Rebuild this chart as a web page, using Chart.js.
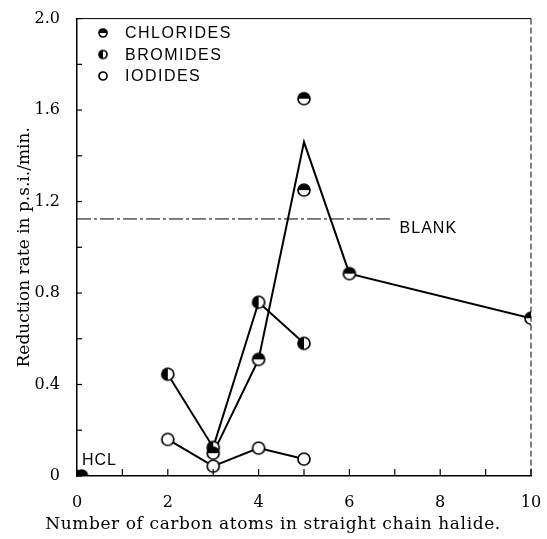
<!DOCTYPE html>
<html>
<head>
<meta charset="utf-8">
<script src="https://cdn.jsdelivr.net/npm/chart.js@4.4.1/dist/chart.umd.min.js"></script>
<style>
  html, body { margin: 0; padding: 0; background: #fff; }
  #wrap { width: 547px; height: 539px; position: relative; }
</style>
</head>
<body>
<div id="wrap"><canvas id="rateChart"></canvas></div>
<script>
// ---- data ----
const chlorideX = [0.1, 3, 4, 5, 5, 6, 10];
const chlorideY = [0, 0.10, 0.51, 1.65, 1.25, 0.885, 0.69];
// chloride curve goes through the mean of the two C5 runs
const chlorideLineX = [3, 4, 5, 6, 10];
const chlorideLineY = [0.10, 0.51, 1.46, 0.885, 0.69];
const bromideX = [2, 3, 4, 5];
const bromideY = [0.445, 0.125, 0.76, 0.58];
const iodideX = [2, 3, 4, 5];
const iodideY = [0.16, 0.043, 0.122, 0.074];
const blankX = [0, 6.93];
const blankY = [1.124, 1.124];

const legendNames = ['CHLORIDES', 'BROMIDES', 'IODIDES'];
const xTitle = 'Number of carbon atoms in straight chain halide.';
const yTitle = 'Reduction rate in p.s.i./min.';

function pts(xs, ys) {
    return xs.map(function(x, i) { return {x: x, y: ys[i]}; });
}

// half filled circle markers like in the print
function makeMarker(r, fill) {
    const c = document.createElement('canvas');
    const s = Math.ceil(r * 2 + 4);
    c.width = s; c.height = s;
    const g = c.getContext('2d');
    const m = s / 2;
    g.fillStyle = '#fff';
    g.beginPath(); g.arc(m, m, r, 0, Math.PI * 2); g.fill();
    g.fillStyle = '#000';
    if (fill === 'top') {
        g.beginPath(); g.arc(m, m, r, Math.PI, 0); g.closePath(); g.fill();
    }
    if (fill === 'left') {
        g.beginPath(); g.arc(m, m, r, Math.PI / 2, Math.PI * 1.5); g.closePath(); g.fill();
    }
    g.lineWidth = 1.7;
    g.strokeStyle = '#000';
    g.beginPath(); g.arc(m, m, r, 0, Math.PI * 2); g.stroke();
    return c;
}

const chlMark = makeMarker(6, 'top');
const broMark = makeMarker(6, 'left');
const iodMark = makeMarker(6, 'none');
const legendMarks = [makeMarker(4, 'top'), makeMarker(4, 'left'), makeMarker(4, 'none')];

const extras = {
    id: 'extras',
    afterDraw: function(chart) {
        const ctx = chart.ctx;
        const a = chart.chartArea;
        const xs = chart.scales.x, ys = chart.scales.y;
        ctx.save();

        // top and right frame
        ctx.strokeStyle = '#000';
        ctx.lineWidth = 1;
        ctx.beginPath(); ctx.moveTo(a.left, a.top); ctx.lineTo(a.right, a.top); ctx.stroke();
        ctx.setLineDash([6, 3]);
        ctx.beginPath(); ctx.moveTo(a.right, a.top); ctx.lineTo(a.right, a.bottom); ctx.stroke();
        ctx.setLineDash([]);

        // inward tick marks
        ctx.lineWidth = 1.2;
        ys.ticks.forEach(function(t) {
            const p = ys.getPixelForValue(t.value);
            ctx.beginPath(); ctx.moveTo(a.left, p); ctx.lineTo(a.left + 5, p); ctx.stroke();
        });
        xs.ticks.forEach(function(t) {
            const p = xs.getPixelForValue(t.value);
            ctx.beginPath(); ctx.moveTo(p, a.bottom); ctx.lineTo(p, a.bottom - 7); ctx.stroke();
        });

        // labels
        ctx.fillStyle = '#000';
        ctx.font = '16px "Liberation Sans"';
        ctx.textBaseline = 'middle';
        ctx.letterSpacing = '1px';
        ctx.fillText('BLANK', xs.getPixelForValue(blankX[1]) + 8, ys.getPixelForValue(blankY[0]) + 10);
        ctx.fillText('HCL', a.left + 5, ys.getPixelForValue(0) - 15);

        // legend
        ctx.letterSpacing = '1.5px';
        legendNames.forEach(function(name, i) {
            const cy = 33 + i * 21.5;
            const mk = legendMarks[i];
            ctx.drawImage(mk, 103 - mk.width / 2, cy - mk.height / 2);
            ctx.fillText(name, 125, cy + 1);
        });

        // x axis title
        ctx.letterSpacing = '0.6px';
        ctx.font = '17px "DejaVu Serif"';
        ctx.textAlign = 'center';
        ctx.fillText(xTitle, 273, 525);
        ctx.restore();
    }
};

const ctx = document.getElementById('rateChart').getContext('2d');
const rateChart = new Chart(ctx, {
    type: 'scatter',
    data: {
        datasets: [
            {
                label: 'Chlorides',
                data: pts(chlorideX, chlorideY),
                pointStyle: chlMark,
                showLine: false,
                order: 0
            },
            {
                label: 'Bromides',
                data: pts(bromideX, bromideY),
                pointStyle: broMark,
                showLine: true,
                borderColor: '#000',
                borderWidth: 2,
                order: 1
            },
            {
                label: 'Iodides',
                data: pts(iodideX, iodideY),
                pointStyle: iodMark,
                showLine: true,
                borderColor: '#000',
                borderWidth: 2,
                order: 2
            },
            {
                label: 'Chloride curve',
                data: pts(chlorideLineX, chlorideLineY),
                showLine: true,
                pointRadius: 0,
                borderColor: '#000',
                borderWidth: 2,
                order: 3
            },
            {
                label: 'Blank',
                data: pts(blankX, blankY),
                showLine: true,
                pointRadius: 0,
                borderColor: '#000',
                borderWidth: 1,
                borderDash: [14, 3, 3, 3],
                order: 4
            }
        ]
    },
    options: {
        responsive: true,
        maintainAspectRatio: false,
        animation: false,
        devicePixelRatio: 1,
        layout: {
            padding: {left: 0, right: 0, top: 15, bottom: 0}
        },
        plugins: {
            legend: {display: false},
            tooltip: {enabled: false}
        },
        scales: {
            x: {
                type: 'linear',
                min: 0,
                max: 10,
                grid: {display: false},
                border: {display: true, color: '#000', width: 1.5},
                afterFit: function(s) {
                    s.height = 63;
                    s.paddingRight = 16;
                },
                ticks: {
                    stepSize: 1,
                    autoSkip: false,
                    maxRotation: 0,
                    padding: 9,
                    color: '#000',
                    font: {family: 'DejaVu Serif', size: 16},
                    callback: function(v) { return v % 2 ? '' : String(v); }
                }
            },
            y: {
                type: 'linear',
                min: 0,
                max: 2,
                grid: {display: false},
                border: {display: true, color: '#000', width: 1.5},
                afterFit: function(s) { s.width = 77; },
                title: {
                    display: true,
                    text: yTitle,
                    color: '#000',
                    font: {family: 'DejaVu Serif', size: 17},
                    padding: {top: 14, bottom: 0}
                },
                ticks: {
                    stepSize: 0.2,
                    autoSkip: false,
                    padding: 9,
                    color: '#000',
                    font: {family: 'DejaVu Serif', size: 16},
                    callback: function(v) {
                        const k = Math.round(v * 10);
                        if (k % 4) return '';
                        return k === 0 ? '0' : v.toFixed(1);
                    }
                }
            }
        }
    },
    plugins: [extras]
});
</script>
</body>
</html>
